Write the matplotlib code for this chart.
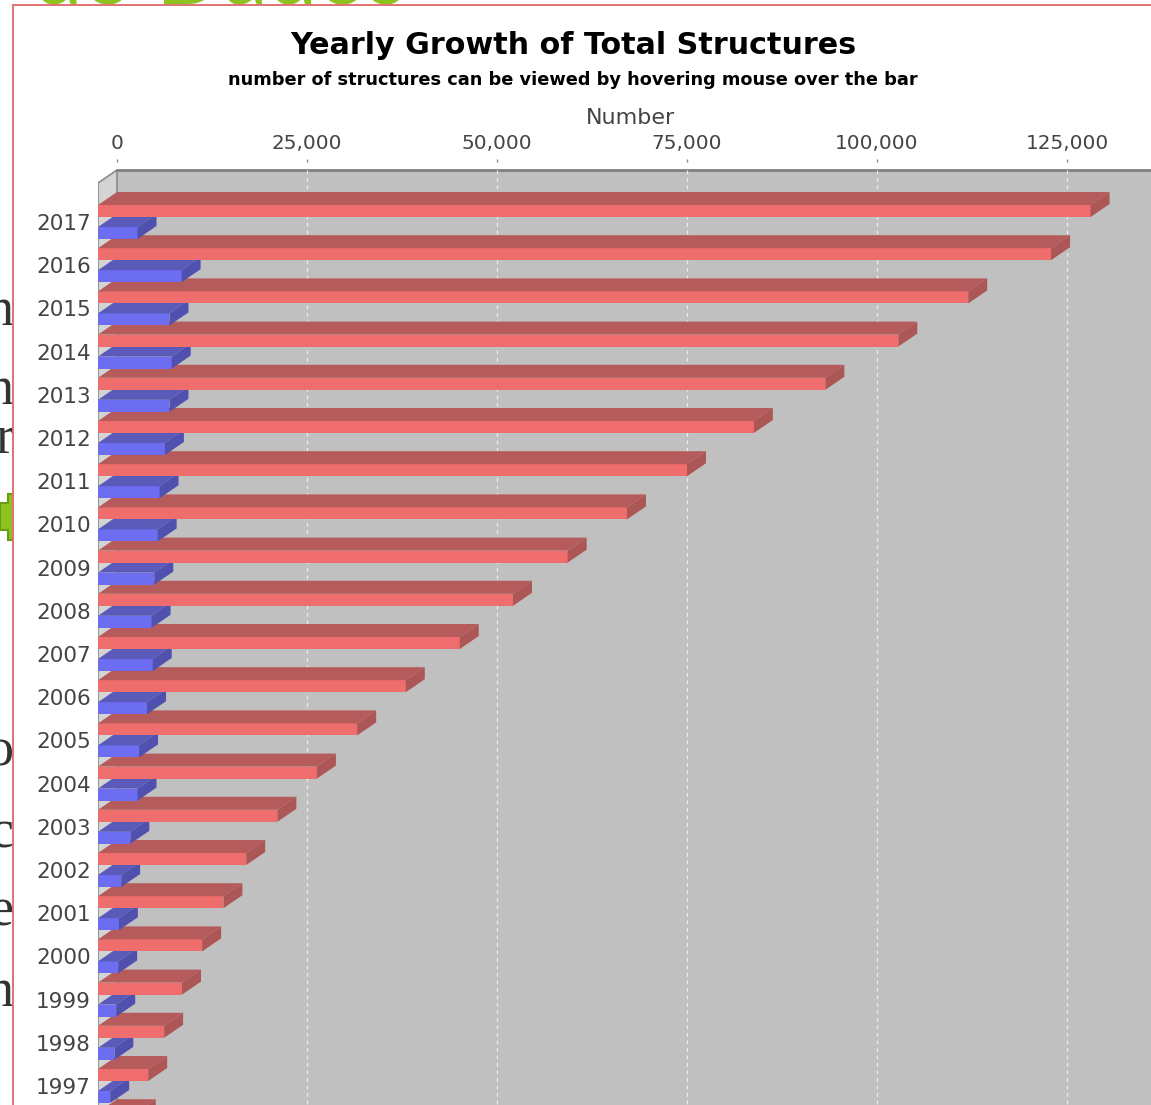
import matplotlib
matplotlib.use("Agg")
import matplotlib.pyplot as plt
from matplotlib.patches import Polygon, Rectangle


YEARS = [2017, 2016, 2015, 2014, 2013, 2012, 2011, 2010, 2009, 2008, 2007,
         2006, 2005, 2004, 2003, 2002, 2001, 2000, 1999, 1998, 1997, 1996]
TOTAL = [130600, 125400, 114500, 105300, 95700, 86300, 77500, 69600, 61800,
         54600, 47600, 40500, 34100, 28800, 23600, 19500, 16500, 13700,
         11050, 8700, 6600, 5100]
YEARLY = [5200, 11000, 9400, 9700, 9400, 8800, 8100, 7850, 7400, 7050, 7200,
          6450, 5400, 5200, 4250, 3050, 2750, 2650, 2400, 2150, 1600, 1200]
TICK_VALUES = [0, 25000, 50000, 75000, 100000, 125000]
TICK_LABELS = ["0", "25,000", "50,000", "75,000", "100,000", "125,000"]
TITLE = "Yearly Growth of Total Structures"
SUBTITLE = "number of structures can be viewed by hovering mouse over the bar"
AXIS_LABEL = "Number"

W, H = 1151, 1105
PX_PER_1000 = 7.6
ROW_PX = 43.2
FIRST_ROW_PX = 222
DEPTH_X_PX, DEPTH_Y_PX = 19, 13
BAR_PX = 12
BAR_SHIFT_PX = 11

RED = ("#ef6d6d", "#b55b5b", "#ad5656")
BLUE = ("#6d6df2", "#5a5ab8", "#5050ae")


def fx(px):
    return px / W


def fy(py):
    return 1 - py / H


fig = plt.figure(figsize=(W / 100, H / 100), dpi=100, facecolor="white")

# bits of the web page behind the chart
fig.text(fx(33), fy(3), "do Dados", fontsize=64, color="#8dc21f",
         family="Lato", va="baseline", zorder=0.1)
for letter, base in [("n", 325), ("n", 404), ("r", 453), ("o", 766),
                     ("c", 848), ("e", 926), ("n", 1006)]:
    fig.text(fx(14), fy(base), letter, fontsize=39, color="#333333",
             family="Liberation Serif", ha="right", va="baseline", zorder=0.1)
arrow = [(0, 503), (8, 503), (8, 494), (14, 494), (14, 540), (8, 540),
         (8, 530), (0, 530)]
fig.add_artist(Polygon([(fx(a), fy(b)) for a, b in arrow], closed=True,
                       transform=fig.transFigure, facecolor="#8dc21f",
                       edgecolor="#6f9a18", lw=1.5, zorder=0.2))
fig.add_artist(Rectangle((fx(13), -0.01), 1.0, fy(5) + 0.01,
                         transform=fig.transFigure, facecolor="white",
                         edgecolor="#e07272", lw=1.4, zorder=0.5))

fig.text(fx(573), fy(46), TITLE, fontsize=21.7, fontweight="bold",
         ha="center", va="center", zorder=3)
fig.text(fx(573), fy(80), SUBTITLE, fontsize=12.8, fontweight="bold",
         ha="center", va="center", zorder=3)

left_px, top_px = 98, 170
ax = fig.add_axes([fx(left_px), 0, fx(W - left_px), 1 - top_px / H])
ax.set_zorder(2)
ax.patch.set_alpha(0)

x_per_px = 1000 / PX_PER_1000
x0 = -DEPTH_X_PX * x_per_px
x1 = (W - left_px - DEPTH_X_PX) * x_per_px
y_top = (top_px - FIRST_ROW_PX) / ROW_PX
y_bot = (H - FIRST_ROW_PX) / ROW_PX
ax.set_xlim(x0, x1)
ax.set_ylim(y_bot, y_top)

dx = DEPTH_X_PX * x_per_px
dy = DEPTH_Y_PX / ROW_PX
h = BAR_PX / ROW_PX
shift = BAR_SHIFT_PX / ROW_PX

# back plane and left wall
ax.add_patch(Rectangle((0, y_top), x1, y_bot - y_top + 1,
                       facecolor="#c0c0c0", edgecolor="none", zorder=0.1))
ax.add_patch(Polygon([(x0, y_top + dy), (0, y_top), (0, y_bot + 1),
                      (x0, y_bot + 1)], closed=True, facecolor="#d4d4d4",
                     edgecolor="#8a8a8a", lw=1.2, zorder=0.2))
ax.plot([0, x1], [y_top, y_top], color="#808080", lw=2, zorder=0.3,
        clip_on=False)
ax.vlines(TICK_VALUES[1:], y_top, y_bot, colors="#ececec",
          linestyles=(0, (3, 3)), lw=0.9, zorder=0.4)

n = len(YEARS)
ys = list(range(n))


def draw_bars(values, offset, colors, zbase):
    front, top, side = colors
    bars = ax.barh([y + offset for y in ys], values, height=h, left=-dx,
                   color=front, edgecolor="none")
    for i, (bar, v) in enumerate(zip(bars, values)):
        z = 10 + (n - i) * 3 + zbase
        bar.set_zorder(z)
        yt = i + offset - h / 2
        yb = i + offset + h / 2
        ax.add_patch(Polygon([(-dx, yt), (v - dx, yt), (v, yt - dy),
                              (0, yt - dy)], closed=True, facecolor=top,
                             edgecolor="none", zorder=z))
        ax.add_patch(Polygon([(v - dx, yt), (v, yt - dy), (v, yb - dy),
                              (v - dx, yb)], closed=True, facecolor=side,
                             edgecolor="none", zorder=z))


draw_bars(YEARLY, shift, BLUE, 0)
draw_bars(TOTAL, -shift, RED, 1.5)

for s in ax.spines.values():
    s.set_visible(False)
ax.spines["top"].set_position(("outward", 6))
ax.xaxis.tick_top()
ax.set_xticks(TICK_VALUES)
ax.set_xticklabels(TICK_LABELS)
ax.tick_params(axis="x", length=2.5, width=1, color="#8a8a8a",
               labelsize=14.4, labelcolor="#444444", pad=4)
ax.set_yticks(ys[:-1])
ax.set_yticklabels([str(y) for y in YEARS[:-1]])
ax.tick_params(axis="y", length=0, labelsize=15.5, labelcolor="#444444",
               pad=5)
ax.set_xlabel(AXIS_LABEL, fontsize=16, color="#444444")
ax.xaxis.set_label_position("top")
ax.xaxis.set_label_coords((630 - left_px) / (W - left_px),
                          (H - 118) / (H - top_px))
ax.xaxis.label.set_va("center")

fig.savefig("out.png", dpi=100, facecolor="white")
